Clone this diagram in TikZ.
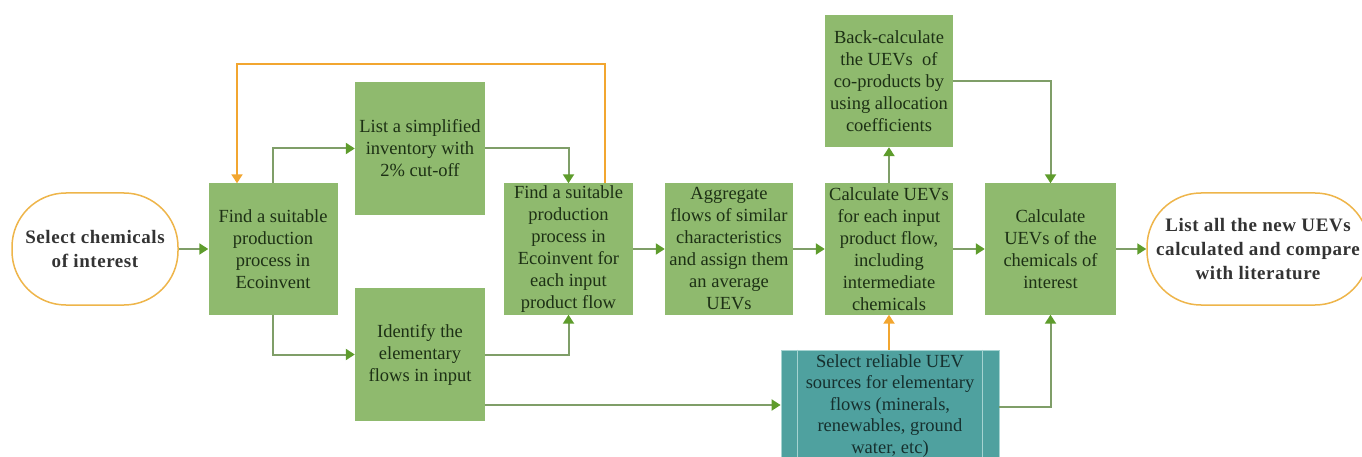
\documentclass[tikz,border=0pt]{standalone}
\usepackage{fontspec}
\setmainfont{Liberation Serif}
\newfontfamily\termfont[LetterSpace=3]{Liberation Serif}
\usetikzlibrary{arrows.meta,calc}
\definecolor{boxgreen}{HTML}{8FBA6E}
\definecolor{txtgreen}{HTML}{1D3015}
\definecolor{linegreen}{HTML}{7F9E68}
\definecolor{tipgreen}{HTML}{5E9C2C}
\definecolor{flowor}{HTML}{F2A630}
\definecolor{termedge}{HTML}{EEB54A}
\definecolor{termtext}{HTML}{333333}
\definecolor{tealfill}{HTML}{4FA19F}
\definecolor{tealbar}{HTML}{A5D3D1}
\definecolor{tealtext}{HTML}{16302E}

\begin{document}
\begin{tikzpicture}[x=1pt,y=-1pt,
  stepbox/.style={fill=boxgreen, text=txtgreen, align=center, inner sep=0pt,
    minimum width=129pt, minimum height=131pt,
    font=\rmfamily\fontsize{18.5}{22}\selectfont},
  term/.style={draw=termedge, line width=1.5pt, fill=white, rounded corners=54pt,
    align=center, text=termtext, inner sep=0pt, minimum height=112pt,
    font=\termfont\bfseries\fontsize{19}{24}\selectfont},
  procbox/.style={fill=tealfill, draw=tealbar, line width=0.8pt, text=tealtext,
    align=center, inner sep=0pt, minimum width=218pt, minimum height=112pt,
    font=\rmfamily\fontsize{18.5}{21.5}\selectfont},
  gflow/.style={draw=linegreen, line width=2pt,
    -{Triangle[length=9pt,width=11pt,color=tipgreen]}},
  oflow/.style={draw=flowor, line width=2pt,
    -{Triangle[length=9pt,width=11pt]}},
]
\useasboundingbox (0,0) rectangle (1362,457);
\clip (0,0) rectangle (1362,457);

% terminals
\node[term, minimum width=166pt] (start) at (95,249) {Select chemicals\\of interest};
\node[term, minimum width=222pt] (finish) at (1258,249) {List all the new UEVs\\calculated and compare\\with literature};

% process steps
\node[stepbox] (f1) at (273,249) {Find a suitable\\production\\process in\\Ecoinvent};
\node[stepbox, minimum width=130pt, minimum height=133pt] (list) at (420,148.5) {List a simplified\\inventory with\\2\% cut-off};
\node[stepbox, minimum width=130pt, minimum height=133pt] (ident) at (420,354.5) {Identify the\\elementary\\flows in input};
\node[stepbox] (f2) at (568.5,249) {Find a suitable\\production\\process in\\Ecoinvent for\\each input\\product flow};
\node[stepbox, minimum width=128pt] (agg) at (729,249) {Aggregate\\flows of similar\\characteristics\\and assign them\\an average\\UEVs};
\node[stepbox, minimum width=128pt] (calc) at (889,249) {Calculate UEVs\\for each input\\product flow,\\including\\intermediate\\chemicals};
\node[stepbox, minimum width=128pt, minimum height=132pt] (back) at (889,81) {Back-calculate\\the UEVs\ \ of\\co-products by\\using allocation\\coefficients};
\node[stepbox, minimum width=131pt] (chem) at (1050.5,249) {Calculate\\UEVs of the\\chemicals of\\interest};

% predefined process for the elementary flows
\node[procbox] (sel) at (890,406) {Select reliable UEV\\sources for elementary\\flows (minerals,\\renewables, ground\\water, etc)};
\draw[tealbar, line width=1.2pt] ($(sel.north west)+(17,0)$) -- ($(sel.south west)+(17,0)$);
\draw[tealbar, line width=1.2pt] ($(sel.north east)+(-17,0)$) -- ($(sel.south east)+(-17,0)$);

% connectors
\draw[gflow] (start.east) -- (f1.west);
\draw[gflow] (f1.north) |- (list.west);
\draw[gflow] (f1.south) |- (ident.west);
\draw[gflow] (list.east) -| (f2.north);
\draw[gflow] (ident.east) -| (f2.south);
\coordinate (loopR) at (605,64);
\coordinate (loopL) at (237,64);
\draw[oflow] (loopR |- f2.north) -- (loopR) -- (loopL) -- (loopL |- f1.north);
\draw[gflow] (f2.east) -- (agg.west);
\draw[gflow] (agg.east) -- (calc.west);
\draw[gflow] (calc.east) -- (chem.west);
\draw[gflow] (chem.east) -- (finish.west);
\draw[gflow] (calc.north) -- (back.south);
\draw[gflow] (back.east) -| (chem.north);
\draw[oflow] (calc.south |- sel.north) -- (calc.south);
\coordinate (iout) at ([yshift=-50.5pt]ident.east);
\draw[gflow] (iout) -- (iout -| sel.west);
\draw[gflow] ([yshift=-1pt]sel.east) -| (chem.south);
\end{tikzpicture}
\end{document}
